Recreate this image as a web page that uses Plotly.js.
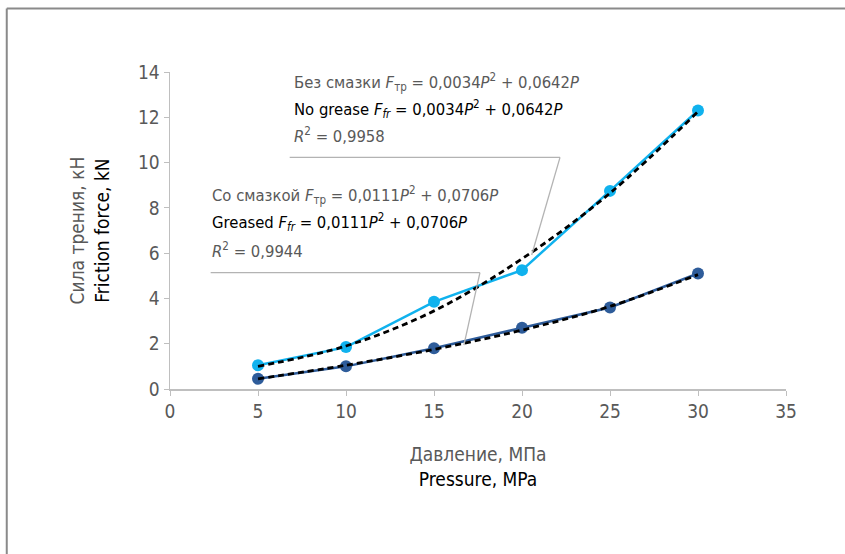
<!DOCTYPE html>
<html>
<head>
<meta charset="utf-8">
<script src="https://cdn.plot.ly/plotly-3.0.1.min.js"></script>
<style>
  html, body { margin: 0; padding: 0; background: #ffffff; }
  #chart { width: 845px; height: 554px; }
  #chart svg text { font-stretch: condensed !important; }
</style>
</head>
<body>
<div id="chart"></div>
<script>
// ---- data ----
const pressure = [5, 10, 15, 20, 25, 30];
const noGrease = [1.05, 1.85, 3.85, 5.25, 8.75, 12.3];
const greased = [0.45, 1.0, 1.8, 2.7, 3.6, 5.1];
const trendNoGrease = [1.0, 1.9, 3.45, 5.75, 8.65, 12.25];
const trendGreased = [0.45, 1.05, 1.75, 2.6, 3.65, 5.05];

const xTitleRu = 'Давление, МПа';
const xTitleEn = 'Pressure, MPa';
const yTitleRu = 'Сила трения, кН';
const yTitleEn = 'Friction force, kN';

const FONT = '"DejaVu Sans", sans-serif';
const GRAY = '#595959';
const AXIS = '#bfbfbf';

const traces = [
  { x: pressure, y: noGrease, type: 'scatter', mode: 'lines+markers', name: 'Без смазки / No grease',
    line: { color: '#10b2ee', width: 2.5 }, marker: { color: '#10b2ee', size: 12 } },
  { x: pressure, y: greased, type: 'scatter', mode: 'lines+markers', name: 'Со смазкой / Greased',
    line: { color: '#2e5c9a', width: 2.5 }, marker: { color: '#2e5c9a', size: 12 } },
  { x: pressure, y: trendNoGrease, type: 'scatter', mode: 'lines', name: 'trend no grease',
    line: { color: '#000000', width: 2.8, dash: '6px,4px', shape: 'spline' } },
  { x: pressure, y: trendGreased, type: 'scatter', mode: 'lines', name: 'trend greased',
    line: { color: '#000000', width: 2.8, dash: '6px,4px', shape: 'spline' } }
];

const eqLinesUpper = [
  'Без смазки <i>F</i><sub>тр</sub> = 0,0034<i>P</i><sup>2</sup> + 0,0642<i>P</i>',
  'No grease <i>F<sub>fr</sub></i> = 0,0034<i>P</i><sup>2</sup> + 0,0642<i>P</i>',
  '<i>R</i><sup>2</sup> = 0,9958'
];
const eqLinesLower = [
  'Со смазкой <i>F</i><sub>тр</sub> = 0,0111<i>P</i><sup>2</sup> + 0,0706<i>P</i>',
  'Greased <i>F<sub>fr</sub></i> = 0,0111<i>P</i><sup>2</sup> + 0,0706<i>P</i>',
  '<i>R</i><sup>2</sup> = 0,9944'
];
const lineColors = [GRAY, '#000000', GRAY];

function eqAnnotations(lines, x, ys) {
  return lines.map((t, i) => ({
    xref: 'x', yref: 'paper', x: x, y: ys[i], xanchor: 'left', yanchor: 'middle', align: 'left',
    showarrow: false, text: t, font: { family: FONT, size: 16.5, color: lineColors[i] }
  }));
}

const layout = {
  width: 845, height: 554,
  margin: { l: 170, r: 59, t: 72, b: 165 },
  paper_bgcolor: '#ffffff', plot_bgcolor: '#ffffff',
  showlegend: false,
  font: { family: FONT, color: GRAY, size: 17 },
  xaxis: {
    range: [0, 35], dtick: 5, tick0: 0, showgrid: false, zeroline: false,
    showline: true, linecolor: AXIS, linewidth: 1.5,
    ticks: 'outside', ticklen: 5, tickcolor: AXIS, tickwidth: 1,
    tickfont: { family: FONT, size: 19, color: GRAY },
    title: { text: `<span style="color:${GRAY}">${xTitleRu}</span><br>${xTitleEn}`,
             font: { family: FONT, size: 19, color: '#000000' }, standoff: 26 }
  },
  yaxis: {
    range: [0, 14], dtick: 2, tick0: 0, showgrid: false, zeroline: false,
    showline: true, linecolor: AXIS, linewidth: 1.5,
    ticks: 'outside', ticklen: 5, tickcolor: AXIS, tickwidth: 1,
    tickfont: { family: FONT, size: 19, color: GRAY },
    title: { text: `<span style="color:${GRAY}">${yTitleRu}</span><br>${yTitleEn}`,
             font: { family: FONT, size: 19, color: '#000000' }, standoff: 21 }
  },
  annotations: [
    ...eqAnnotations(eqLinesUpper, 6.93, [0.968, 0.882, 0.800]),
    ...eqAnnotations(eqLinesLower, 2.25, [0.612, 0.528, 0.438])
  ],
  shapes: [
    // leader line for upper equation
    { type: 'line', xref: 'x', yref: 'y', x0: 6.8, y0: 10.23, x1: 22.16, y1: 10.23, line: { color: '#b3b3b3', width: 1.3 } },
    { type: 'line', xref: 'x', yref: 'y', x0: 22.16, y0: 10.23, x1: 20.55, y1: 5.92, line: { color: '#b3b3b3', width: 1.3 } },
    // leader line for lower equation
    { type: 'line', xref: 'x', yref: 'y', x0: 2.31, y0: 5.14, x1: 17.61, y1: 5.14, line: { color: '#b3b3b3', width: 1.3 } },
    { type: 'line', xref: 'x', yref: 'y', x0: 17.61, y0: 5.14, x1: 16.70, y1: 1.94, line: { color: '#b3b3b3', width: 1.3 } },
    // outer frame (top and left edges)
    { type: 'line', xref: 'paper', yref: 'paper', x0: -0.265, y0: 1.2, x1: 1.2, y1: 1.2, line: { color: '#8a8a8a', width: 2 } },
    { type: 'line', xref: 'paper', yref: 'paper', x0: -0.265, y0: 1.2, x1: -0.265, y1: -0.6, line: { color: '#8a8a8a', width: 2 } }
  ]
};

Plotly.newPlot('chart', traces, layout, { displayModeBar: false, staticPlot: true });
</script>
</body>
</html>
